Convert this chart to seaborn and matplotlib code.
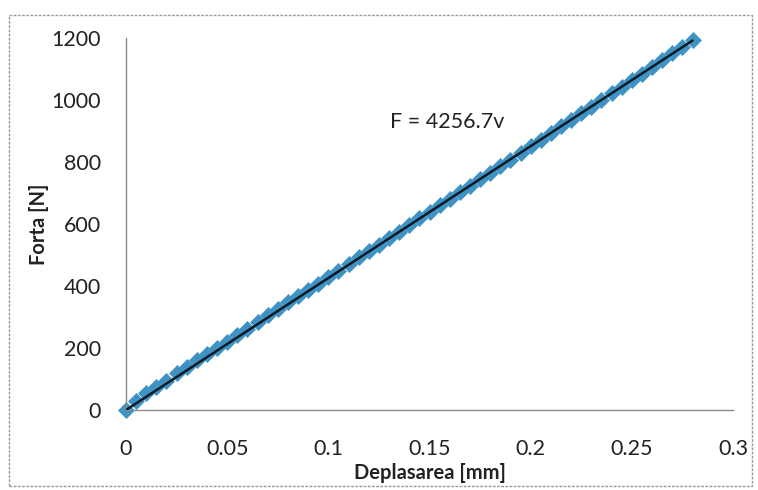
import numpy as np
import pandas as pd
import matplotlib
matplotlib.use("Agg")
import matplotlib.pyplot as plt
from matplotlib.patches import Rectangle
import seaborn as sns

# ---- data ----
deplasarea = [0.000, 0.005, 0.010, 0.015, 0.020, 0.025, 0.030, 0.035, 0.040, 0.045,
              0.050, 0.055, 0.060, 0.065, 0.070, 0.075, 0.080, 0.085, 0.090, 0.095,
              0.100, 0.105, 0.110, 0.115, 0.120, 0.125, 0.130, 0.135, 0.140, 0.145,
              0.150, 0.155, 0.160, 0.165, 0.170, 0.175, 0.180, 0.185, 0.190, 0.195,
              0.200, 0.205, 0.210, 0.215, 0.220, 0.225, 0.230, 0.235, 0.240, 0.245,
              0.250, 0.255, 0.260, 0.265, 0.270, 0.275, 0.280]
forta = [0, 30, 55, 75, 95, 118, 140, 160, 180, 200,
         220, 242, 262, 284, 305, 325, 347, 368, 388, 408,
         428, 450, 470, 492, 512, 533, 555, 575, 597, 618,
         640, 660, 682, 703, 724, 745, 766, 788, 808, 830,
         851, 872, 894, 915, 936, 958, 979, 1000, 1021, 1043,
         1064, 1085, 1107, 1128, 1150, 1171, 1195]
fit_slope = 4256.7
fit_label = "F = 4256.7v"
x_ticks = [0, 0.05, 0.1, 0.15, 0.2, 0.25, 0.3]
x_ticklabels = ["0", "0.05", "0.1", "0.15", "0.2", "0.25", "0.3"]
y_ticks = [0, 200, 400, 600, 800, 1000, 1200]
x_label = "Deplasarea [mm]"
y_label = "Forta [N]"

sns.set_theme(style="white")
plt.rcParams['font.family'] = ['Lato', 'DejaVu Sans']

df = pd.DataFrame({"x": deplasarea, "y": forta})
fit_x = [deplasarea[0], deplasarea[-1]]
fit_df = pd.DataFrame({"x": fit_x, "y": [fit_slope * v for v in fit_x]})

fig = plt.figure(figsize=(7.58, 4.90), dpi=100)
ax = fig.add_axes([126/758, 1 - 410/490, (733-126)/758, (410-38)/490])

sns.scatterplot(data=df, x="x", y="y", marker="D", s=75, color="#3f93c4",
                edgecolor="#3f93c4", linewidth=0, ax=ax, zorder=2, clip_on=False)
sns.lineplot(data=fit_df, x="x", y="y", color="#0d1a24", linewidth=1.8, ax=ax,
             zorder=3)

ax.set_xlim(0, 0.3)
ax.set_ylim(0, 1200)
ax.set_xticks(x_ticks)
ax.set_xticklabels(x_ticklabels)
ax.set_yticks(y_ticks)

for s in ["top", "right"]:
    ax.spines[s].set_visible(False)
for s in ["left", "bottom"]:
    ax.spines[s].set_color("#8a8a8a")
    ax.spines[s].set_linewidth(1.0)

ax.tick_params(axis="both", which="major", direction="out", length=5, width=1,
               color="#8a8a8a", labelsize=15.5, labelcolor="#222222")
ax.tick_params(axis="x", pad=16)
ax.tick_params(axis="y", pad=13)

ax.set_xlabel(x_label, fontsize=14.5, fontweight="bold", color="#222222", labelpad=3)
ax.set_ylabel(y_label, fontsize=14.5, fontweight="bold", color="#222222", labelpad=2)

ax.text(0.1305, 929, fit_label, fontsize=15.5, color="#222222", va="center", ha="left")

# outer chart border
fig.patches.append(Rectangle((9/758, 1 - 486/490), (752-9)/758, (486-15)/490,
                             transform=fig.transFigure, fill=False,
                             edgecolor="#999999", linewidth=1.0, linestyle=(0, (2, 1))))

fig.savefig("out.png", dpi=100)
